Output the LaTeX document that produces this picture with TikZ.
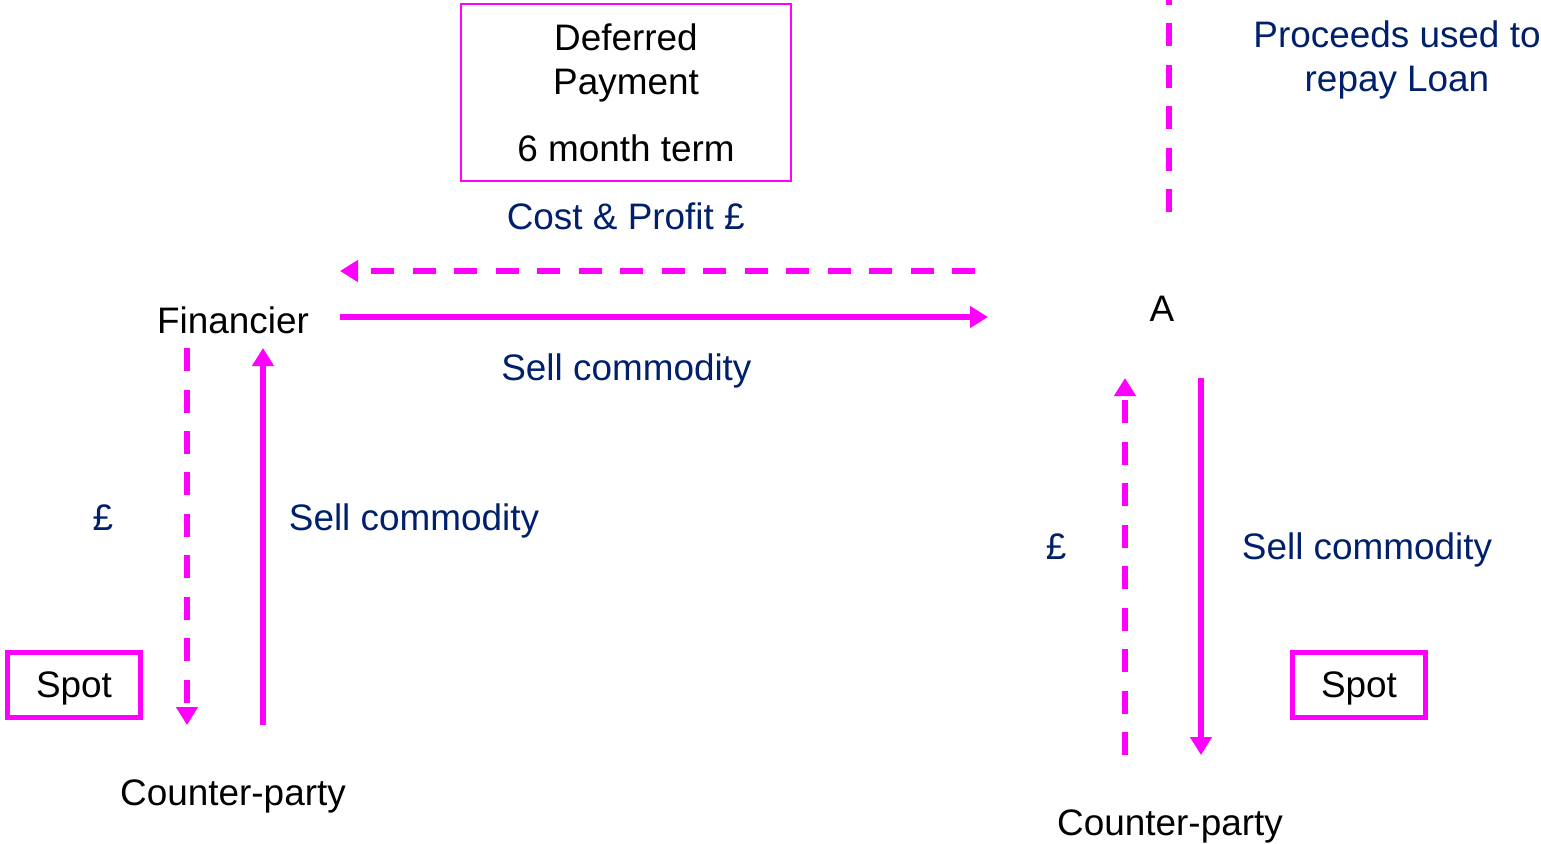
\documentclass[tikz,border=0pt]{standalone}
\usepackage{fontspec}
\setmainfont{Liberation Sans}
\usetikzlibrary{arrows.meta}
\definecolor{navytext}{RGB}{0,32,108}
\definecolor{pinkline}{RGB}{255,0,255}

\begin{document}
\begin{tikzpicture}[x=0.02cm, y=-0.02cm, font=\fontsize{21}{25}\selectfont,
        flow/.style = {draw=pinkline, line width=3pt, -{Triangle[length=0.36cm, width=0.42cm]}},
        cash/.style = {flow, dash pattern=on 0.46cm off 0.37cm},
        party/.style = {text=black, anchor=base},
        lbl/.style = {text=navytext, anchor=base},
        spotbox/.style = {draw=pinkline, line width=3pt, minimum width=2.66cm, minimum height=1.3cm,
            text height=18.7pt, text depth=4.4pt}]
        \useasboundingbox (0,0) rectangle (1541,843);

        \node[party] (fin) at (233,333) {Financier};
        \node[party] (a) at (1162,321) {A};
        \node[party] (cp1) at (233,805) {Counter-party};
        \node[party] (cp2) at (1170,835) {Counter-party};
        \node[spotbox] (spot1) at (74,685) {Spot};
        \node[spotbox] (spot2) at (1359,685) {Spot};
        \node[draw=pinkline, line width=1.1pt, minimum width=6.6cm, minimum height=3.54cm, align=center] (def) at (626,92.5)
            {Deferred\\Payment\\[13pt]6 month term};
        \node[text=navytext, align=center] (loan) at (1397,60) {Proceeds used to\\repay Loan};

        \coordinate (fin e1) at (340,271);  \coordinate (a w1) at (975,271);
        \coordinate (fin e2) at (340,317);  \coordinate (a w2) at (988,317);
        \coordinate (fin s1) at (187,348);  \coordinate (cp1 n1) at (187,725);
        \coordinate (fin s2) at (263,348);  \coordinate (cp1 n2) at (263,725);
        \coordinate (a s1) at (1125,378);   \coordinate (cp2 n1) at (1125,755);
        \coordinate (a s2) at (1201,378);   \coordinate (cp2 n2) at (1201,755);
        \coordinate (a n) at (1169,212);    \coordinate (top) at (1169,0);

        \draw[cash] (a w1) -- node[lbl, pos=0.55, above=0.66cm] (cost) {Cost \& Profit £} (fin e1);
        \draw[flow] (fin e2) -- node[lbl, pos=0.442, below=0.56cm] (sell0) {Sell commodity} (a w2);
        \draw[cash] (fin s1) -- (cp1 n1);
        \draw[flow] (cp1 n2) -- (fin s2);
        \draw[cash] (cp2 n1) -- (a s1);
        \draw[flow] (a s2) -- (cp2 n2);
        \draw[cash, -] (a n) -- (top);

        \node[lbl] (pay1) at (103,530) {£};
        \node[lbl] (sell1) at (414,530) {Sell commodity};
        \node[lbl] (pay2) at (1056,559) {£};
        \node[lbl] (sell2) at (1367,559) {Sell commodity};

    \end{tikzpicture}
\end{document}
